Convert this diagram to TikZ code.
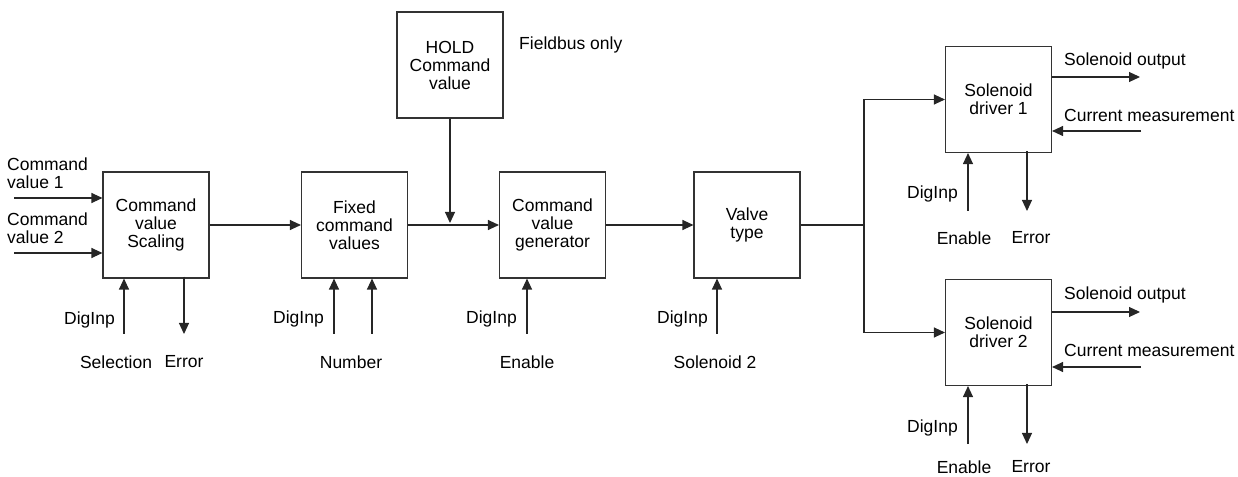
\documentclass[tikz,border=0pt]{standalone}
\usepackage{fontspec}
\setmainfont{Liberation Sans}
\usetikzlibrary{arrows.meta}
\begin{document}
\begin{tikzpicture}[x=1bp,y=-1bp,
  every node/.style={font=\fontsize{17.5bp}{18bp}\selectfont, inner sep=0pt},
  blk/.style={draw=black!80, line width=1.1bp, minimum width=106bp, minimum height=106bp, align=center},
  lbl/.style={align=left},
  arr/.style={draw=black!85, line width=1.1bp, -{Triangle[length=11bp,width=10bp]}},
  ln/.style={draw=black!85, line width=1.1bp}]
\useasboundingbox (0,0) rectangle (1238,477);

% blocks
\node[blk] (b1) at (156,225) {Command\\value\\Scaling};
\node[blk] (b2) at (354.5,225) {Fixed\\command\\values};
\node[blk] (hold) at (450,65) {HOLD\\Command\\value};
\node[blk] (b3) at (552.5,225) {Command\\value\\generator};
\node[blk] (vt) at (747,225) {Valve\\type};
\node[blk] (d1) at (998.5,99.5) {Solenoid\\driver 1};
\node[blk] (d2) at (998.5,332.5) {Solenoid\\driver 2};

% left inputs
\coordinate (in1) at (14,198);
\coordinate (in2) at (14,253);
\node[lbl,anchor=west] (tin1) at (7,173) {Command\\value 1};
\node[lbl,anchor=west] (tin2) at (7,228) {Command\\value 2};
\draw[arr] (in1) -- (b1.west |- in1);
\draw[arr] (in2) -- (b1.west |- in2);

% main chain
\draw[arr] (b1) -- (b2);
\draw[arr] (b2) -- (b3);
\coordinate (hj) at (450,223);
\draw[arr] (hold) -- (hj);
\node[anchor=west] (fb) at (519,45) {Fieldbus only};
\draw[arr] (b3) -- (vt);
\coordinate (br) at (864,225);
\draw[ln] (vt.east) -- (br);
\draw[arr] (br) |- (d1.west);
\draw[arr] (br) |- (d2.west);

% box 1 bottom
\coordinate (b1a) at (124,334);
\coordinate (b1e) at (184,334);
\draw[arr] (b1a) -- (b1a |- b1.south);
\draw[arr] ([yshift=2bp]b1e |- b1.south) -- (b1e);
\node[anchor=east] (t1a) at (115,320) {DigInp};
\node (t1s) at (116,362) {Selection};
\node (t1e) at (184,362) {Error};

% box 2 bottom
\coordinate (b2a) at (334,334);
\coordinate (b2b) at (372,334);
\draw[arr] (b2a) -- (b2a |- b2.south);
\draw[arr] (b2b) -- (b2b |- b2.south);
\node[anchor=east] (t2a) at (324,319) {DigInp};
\node (t2n) at (351,362) {Number};

% box 3 bottom
\coordinate (b3a) at (527,334);
\draw[arr] (b3a) -- (b3a |- b3.south);
\node[anchor=east] (t3a) at (517,319) {DigInp};
\node (t3e) at (527,362) {Enable};

% valve bottom
\coordinate (vta) at (717,334);
\draw[arr] (vta) -- (vta |- vt.south);
\node[anchor=east] (tva) at (708,319) {DigInp};
\node (tvs) at (715,362) {Solenoid 2};

% driver 1
\coordinate (d1a) at (968,211);
\coordinate (d1e) at (1027,211);
\draw[arr] (d1a) -- (d1a |- d1.south);
\draw[arr] ([yshift=2bp]d1e |- d1.south) -- (d1e);
\node[anchor=east] (td1a) at (958,194) {DigInp};
\node (td1n) at (964,238) {Enable};
\node (td1e) at (1031,238) {Error};
\coordinate (d1o) at (1140,77);
\coordinate (d1c) at (1141,131);
\draw[arr] (d1.east |- d1o) -- (d1o);
\draw[arr] (d1c) -- (d1.east |- d1c);
\node[anchor=west] (td1o) at (1064,61) {Solenoid output};
\node[anchor=west] (td1c) at (1064,115) {Current measurement};

% driver 2
\coordinate (d2a) at (968,444);
\coordinate (d2e) at (1027,444);
\draw[arr] (d2a) -- (d2a |- d2.south);
\draw[arr] ([yshift=2bp]d2e |- d2.south) -- (d2e);
\node[anchor=east] (td2a) at (958,428) {DigInp};
\node (td2n) at (964,467) {Enable};
\node (td2e) at (1031,467) {Error};
\coordinate (d2o) at (1140,312);
\coordinate (d2c) at (1141,367);
\draw[arr] (d2.east |- d2o) -- (d2o);
\draw[arr] (d2c) -- (d2.east |- d2c);
\node[anchor=west] (td2o) at (1064,295) {Solenoid output};
\node[anchor=west] (td2c) at (1064,350) {Current measurement};
\end{tikzpicture}
\end{document}
